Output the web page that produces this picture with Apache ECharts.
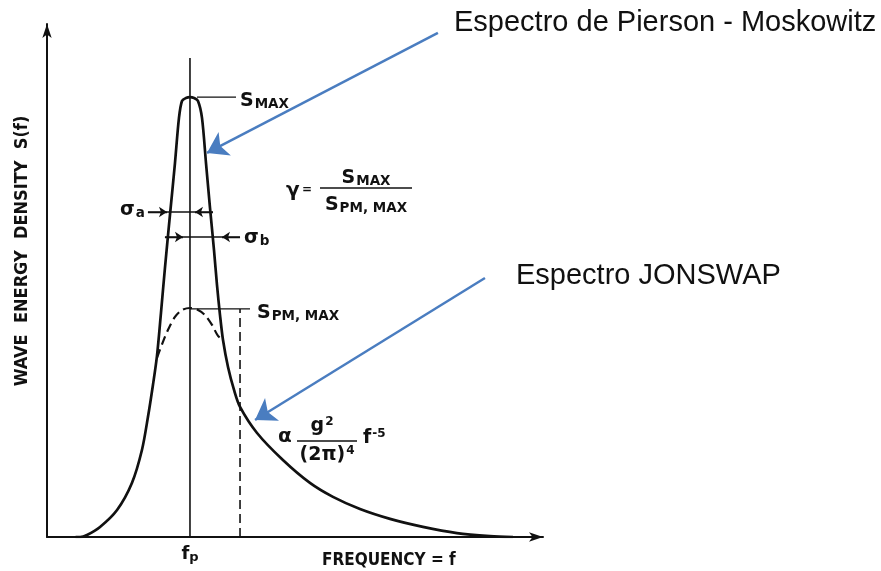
<!DOCTYPE html>
<html>
<head>
<meta charset="utf-8">
<script src="https://cdn.jsdelivr.net/npm/echarts@6/dist/echarts.min.js"></script>
<style>html,body{margin:0;padding:0;background:#fff}#c{width:881px;height:571px}</style>
</head>
<body>
<div id="c"></div>
<script>
// Frequency normalised so that the peak frequency fp = 1; S normalised so that S_PM,max = 1
const jonswapFreq = [0.20,0.231,0.280,0.371,0.490,0.594,0.664,0.706,0.741,0.769,0.797,0.825,0.860,0.895,0.923,0.944,0.972,1.000,1.028,1.056,1.084,1.112,1.140,1.168,1.189,1.210,1.231,1.266,1.308,1.350,1.469,1.650,1.839,2.000,2.189,2.399,2.629,2.867,3.098,3.259];
const jonswapS    = [0,0,0.009,0.044,0.118,0.236,0.380,0.524,0.664,0.790,0.978,1.175,1.406,1.633,1.830,1.904,1.917,1.921,1.917,1.904,1.830,1.633,1.437,1.253,1.100,0.969,0.860,0.742,0.642,0.568,0.454,0.336,0.236,0.175,0.122,0.079,0.044,0.017,0.004,0];
const pmFreq = [0.769,0.811,0.846,0.895,0.944,1.000,1.056,1.105,1.154,1.196,1.231];
const pmS    = [0.782,0.852,0.904,0.961,0.991,1.000,0.991,0.969,0.926,0.878,0.860];
const xTickValues = [1];
const xTickLabels = ['{f|f}{p|p}'];
const fpLine      = [[1,0],[1,2.092]];
const cutoffLine  = [[1.35,0],[1.35,0.996]];
const sMaxLeader  = [[1.049,1.921],[1.322,1.921]];
const sPmLeader   = [[1.0,0.996],[1.42,0.996]];
const sigmaALine  = [[0.706,1.419],[1.161,1.419]];
const sigmaAArrows = [[[0.706,1.419],[0.839,1.419]],[[1.161,1.419],[1.035,1.419]]];
const sigmaBLine  = [[0.825,1.31],[1.350,1.31]];
const sigmaBArrows = [[[0.825,1.31],[0.951,1.31]],[[1.350,1.31],[1.224,1.31]]];
const blueArrows  = [[[2.734,2.201],[1.119,1.677]],[[3.063,1.131],[1.455,0.511]]];
const titlePM = 'Espectro de Pierson - Moskowitz';
const titleJ  = 'Espectro JONSWAP';

const ink = '#111';
const lf = '"DejaVu Sans",sans-serif';
const lc = '"DejaVu Sans Condensed","DejaVu Sans",sans-serif';
const subRich = {
  s:{fontSize:19,fontFamily:lf,fontWeight:'bold',color:ink},
  m:{fontSize:13.5,fontFamily:lf,fontWeight:'bold',color:ink,padding:[7,0,0,1]},
  sup:{fontSize:12,fontFamily:lf,fontWeight:'bold',color:ink,padding:[0,0,9,1]}
};
function txt(x,y,text,opt){
  return {type:'text',x:x,y:y,silent:true,style:Object.assign({text:text,rich:subRich,fill:ink,font:'bold 19px '+lf,verticalAlign:'middle',align:'left'},opt||{})};
}
function pairs(xs,ys){return xs.map((x,i)=>[x,ys[i]]);}
function seg(d,w,dash){return {type:'line',data:d,symbol:'none',silent:true,lineStyle:{color:ink,width:w||1.4,type:dash||'solid'},z:3};}

const chart = echarts.init(document.getElementById('c'),null,{renderer:'canvas'});
chart.setOption({
  backgroundColor:'#fff',
  animation:false,
  grid:{left:47,top:24,width:496,height:513,containLabel:false},
  xAxis:{type:'value',min:0,max:3.469,splitLine:{show:false},
    axisLine:{show:true,symbol:['none','arrow'],symbolSize:[7,14],lineStyle:{color:ink,width:2}},
    axisTick:{show:false},
    axisLabel:{show:true,customValues:xTickValues,margin:8,formatter:(v)=>xTickLabels[xTickValues.indexOf(v)]||'',
      rich:{f:{fontSize:18,fontFamily:lf,fontWeight:'bold',color:ink},p:{fontSize:13,fontFamily:lf,fontWeight:'bold',color:ink,padding:[6,0,0,0]}}}},
  yAxis:{type:'value',min:0,max:2.240,splitLine:{show:false},
    axisLine:{show:true,symbol:['none','arrow'],symbolSize:[7,14],lineStyle:{color:ink,width:2}},
    axisTick:{show:false},axisLabel:{show:false}},
  series:[
    {type:'line',name:'JONSWAP',data:pairs(jonswapFreq,jonswapS),smooth:0.3,symbol:'none',lineStyle:{color:ink,width:2.7},z:5},
    {type:'line',name:'Pierson-Moskowitz',data:pairs(pmFreq,pmS),smooth:0.3,symbol:'none',lineStyle:{color:ink,width:2.2,type:[9,5]},z:4},
    seg(fpLine,1.6),
    seg(cutoffLine,1.6,[9,5]),
    seg(sMaxLeader,1.3),
    seg(sPmLeader,1.3),
    seg(sigmaALine,1.3),
    seg(sigmaBLine,1.3),
    {type:'lines',coordinateSystem:'cartesian2d',silent:true,symbol:['none','arrow'],symbolSize:8,
      data:sigmaAArrows.concat(sigmaBArrows).map(c=>({coords:c})),lineStyle:{color:ink,width:1.3,curveness:0,opacity:1},z:6},
    {type:'lines',coordinateSystem:'cartesian2d',silent:true,symbol:['none','arrow'],symbolSize:20,
      data:blueArrows.map(c=>({coords:c})),lineStyle:{color:'#4a7dc0',width:2.5,curveness:0,opacity:1},z:7}
  ],
  graphic:[
    {type:'text',x:454,y:23,silent:true,style:{text:titlePM,font:'29px "Liberation Sans",Arial,sans-serif',fill:'#111',verticalAlign:'middle'}},
    {type:'text',x:516,y:276,silent:true,style:{text:titleJ,font:'29px "Liberation Sans",Arial,sans-serif',fill:'#111',verticalAlign:'middle'}},
    txt(240,101,'{s|S}{m|MAX}'),
    txt(257,313,'{s|S}{m|PM, MAX}'),
    txt(286,191,'γ',{font:'bold 20px '+lf}),
    txt(302,190,'=',{font:'bold 12px '+lf}),
    txt(366,178,'{s|S}{m|MAX}',{align:'center'}),
    {type:'line',silent:true,shape:{x1:320,y1:188,x2:412,y2:188},style:{stroke:ink,lineWidth:1.5}},
    txt(366,205,'{s|S}{m|PM, MAX}',{align:'center'}),
    txt(120,210,'{s|σ}{m|a}'),
    txt(244,238,'{s|σ}{m|b}'),
    txt(278,437,'α',{font:'bold 20px '+lf}),
    txt(322,426,'{s|g}{sup|2}',{align:'center'}),
    {type:'line',silent:true,shape:{x1:297,y1:441,x2:357,y2:441},style:{stroke:ink,lineWidth:1.4}},
    txt(327,455,'{s|(2π)}{sup|4}',{align:'center'}),
    txt(363,438,'{s|f}{sup|-5}'),
    txt(322,561,'FREQUENCY = f',{font:'bold 17px '+lc}),
    {type:'text',x:22,y:251,rotation:Math.PI/2,silent:true,style:{text:'WAVE  ENERGY  DENSITY  S(f)',font:'bold 18px '+lc,fill:ink,align:'center',verticalAlign:'middle'}}
  ]
});
</script>
</body>
</html>
